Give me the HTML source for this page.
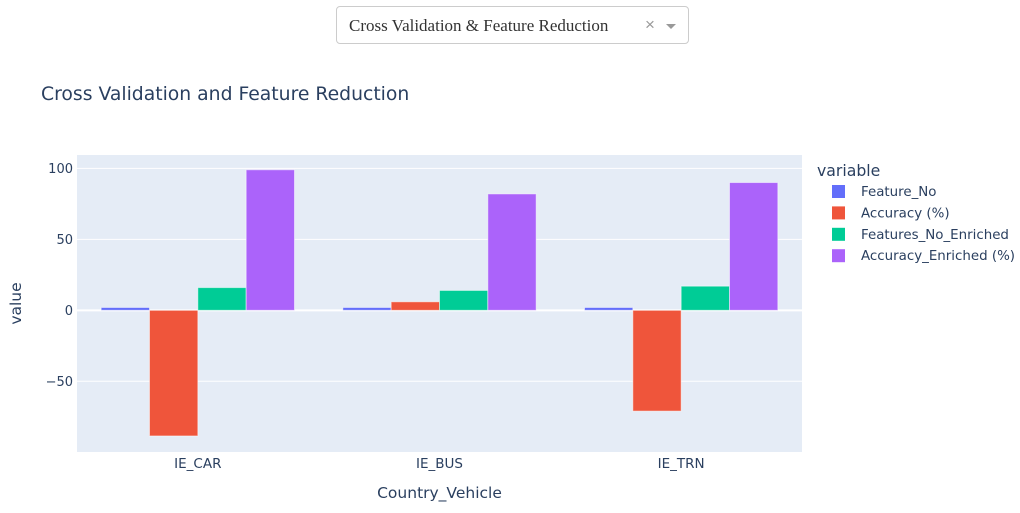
<!DOCTYPE html>
<html><head><meta charset="utf-8"><style>
body{margin:0;background:#fff;width:1020px;height:513px;overflow:hidden;font-family:"DejaVu Sans",sans-serif;}
#dd{position:absolute;left:336px;top:6px;width:353px;height:38px;border:1px solid #ccc;border-radius:4px;box-sizing:border-box;font-family:"Liberation Serif",serif;font-size:17px;color:#333;}
</style></head><body>
<div id="dd">
<span style="position:absolute;left:12px;top:9px">Cross Validation &amp; Feature Reduction</span>
<span style="position:absolute;left:308px;top:8px;color:#999;font-family:'Liberation Sans',sans-serif;font-size:17px">×</span>
<span style="position:absolute;left:329px;top:17px;width:0;height:0;border-left:5px solid transparent;border-right:5px solid transparent;border-top:5px solid #999"></span>
</div>
<svg id="c" width="1020" height="513" style="position:absolute;left:0;top:0;pointer-events:none"></svg>
<script>
const categories=["IE_CAR","IE_BUS","IE_TRN"];
const seriesNames=["Feature_No","Accuracy (%)","Features_No_Enriched","Accuracy_Enriched (%)"];
const featureNo=[2,2,2];
const accuracy=[-88.5,6,-71];
const featuresEnriched=[16,14,17];
const accuracyEnriched=[99,82,90];
const yTicks=[-50,0,50,100];
const yTickLabels=["−50","0","50","100"];
const colors=["#636efa","#EF553B","#00cc96","#ab63fa"];
const series=[featureNo,accuracy,featuresEnriched,accuracyEnriched];
const L=77,R=802,T=155,B=452,yMin=-99.8,yMax=109.4;
const y=v=>B-(v-yMin)/(yMax-yMin)*(B-T);
const bw=(R-L)/categories.length;
const svg=document.getElementById('c');const NS='http://www.w3.org/2000/svg';
function mk(t,a,txt){const e=document.createElementNS(NS,t);for(const k in a)e.setAttribute(k,a[k]);if(txt!=null)e.textContent=txt;svg.appendChild(e);return e;}
let e=mk('rect',{x:L,y:T,width:R-L,height:B-T,fill:'#e5ecf6'});


yTicks.forEach((v,i)=>{
 let g=mk('line',{x1:L,x2:R,y1:y(v),y2:y(v),stroke:'#fff','stroke-width':v===0?2:1});
 
 
 let t=mk('text',{x:L-4,y:y(v)+4.5,'text-anchor':'end','font-size':13,fill:'#2a3f5f'},yTickLabels[i]);
 
 
});
const gw=bw*0.8,w=gw/series.length;
categories.forEach((c,ci)=>{
 const x0=L+ci*bw+bw*0.1;
 series.forEach((s,si)=>{
  const v=s[ci];
  let r=mk('rect',{x:x0+si*w,y:Math.min(y(v),y(0)),width:w,height:Math.abs(y(v)-y(0)),fill:colors[si],stroke:'#fff','stroke-opacity':0.5,'stroke-width':1});
  
  
 });
 let t=mk('text',{x:L+ci*bw+bw/2,y:468,'text-anchor':'middle','font-size':13.5,fill:'#2a3f5f'},c);
 
 
});
let tt=mk('text',{x:41,y:100,'font-size':18.8,fill:'#2a3f5f'},'Cross Validation and Feature Reduction');


let xt=mk('text',{x:(L+R)/2,y:498,'text-anchor':'middle','font-size':15.5,fill:'#2a3f5f'},'Country_Vehicle');


let yt=mk('text',{x:21,y:(T+B)/2,'text-anchor':'middle','font-size':15.5,fill:'#2a3f5f',transform:`rotate(-90 21 ${(T+B)/2})`},'value');


let lt=mk('text',{x:817,y:176,'font-size':15.7,fill:'#2a3f5f'},'variable');


seriesNames.forEach((n,i)=>{
 const ly=191+i*21.4;
 let r=mk('rect',{x:832,y:ly-6,width:13,height:13,fill:colors[i]});
 
 
 let t=mk('text',{x:861,y:ly+5,'font-size':13.4,fill:'#2a3f5f'},n);
 
 
});
</script>
</body></html>
